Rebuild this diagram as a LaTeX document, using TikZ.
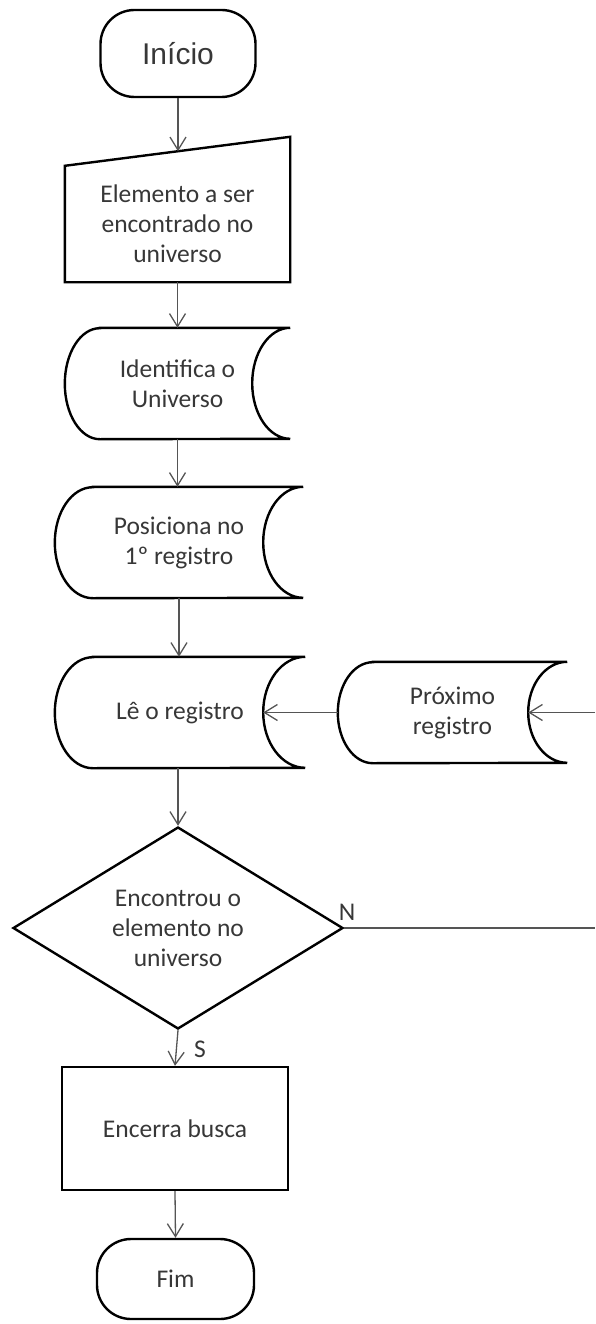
\documentclass[tikz,border=0pt]{standalone}
\usepackage{fontspec}
\setmainfont{Carlito}
\newfontfamily\arialfont{Liberation Sans}
\usetikzlibrary{shapes.geometric,arrows.meta,calc}
\definecolor{txt}{RGB}{55,55,55}
\definecolor{link}{RGB}{85,85,85}

% stored-data outline around a (borderless) node:
% #1 node name, #2 left bulge, #3 right notch depth, #4 half height
\newcommand\storeddata[4]{%
  \draw[outline] ($(#1.north west)+(#2pt,0)$) -- (#1.north east)
    arc[start angle=90, end angle=270, x radius=#3pt, y radius=#4pt]
    -- ($(#1.south west)+(#2pt,0)$)
    arc[start angle=270, end angle=90, x radius=#2pt, y radius=#4pt] -- cycle;
  \coordinate (#1-in) at ($(#1.east)-(#3pt,0)$);
}

\begin{document}
\begin{tikzpicture}[x=1pt,y=1pt,
  every node/.style={font=\fontsize{25.5}{30}\selectfont, text=txt, align=center, inner sep=0pt},
  outline/.style={draw=black, line width=2.4pt},
  terminal/.style={outline, rounded corners=34pt},
  procbox/.style={outline},
  ghost/.style={draw=none},
  decision/.style={outline, diamond, shape aspect=1.63},
  flow/.style={draw=link, line width=1.3pt, -{Straight Barb[length=13pt,width=16pt]}},
  plain/.style={draw=link, line width=1.3pt},
]
\useasboundingbox (0,0) rectangle (595,-1324);

% start
\node[terminal, minimum width=155pt, minimum height=87pt,
      font=\arialfont\fontsize{30}{34}\selectfont] (inicio) at (178,-53.5) {Início};

% manual input with slanted top
\node[ghost, minimum width=225pt, minimum height=116pt] (entrada) at (177.5,-224)
  {Elemento a ser\\encontrado no\\universo};
\coordinate (entradaTR) at ($(entrada.north east)+(0,29)$);
\draw[outline] (entrada.north west) -- (entradaTR) -- (entrada.south east)
  -- (entrada.south west) -- cycle;
\coordinate (entradaIn) at ($(entrada.north west)!0.5!(entradaTR)$);

% stored-data steps
\node[ghost, minimum width=225pt, minimum height=111pt] (identifica) at (177.5,-383.5)
  {Identifica o\\Universo};
\storeddata{identifica}{35}{38}{55.5}

\node[ghost, minimum width=248pt, minimum height=111pt] (posiciona) at (179,-542.5)
  {Posiciona no\\1º registro};
\storeddata{posiciona}{38}{40}{55.5}

\node[ghost, minimum width=250pt, minimum height=111pt] (le) at (180,-712.5)
  {Lê o registro};
\storeddata{le}{38}{42}{55.5}

\node[ghost, minimum width=229pt, minimum height=101pt] (proximo) at (452.5,-712.5)
  {Próximo\\registro};
\storeddata{proximo}{35}{39}{50.5}

% decision
\node[decision, minimum width=330pt, minimum height=202pt] (decisao) at (178,-928)
  {Encontrou o\\elemento no\\universo};

% end of search
\node[procbox, minimum width=226pt, minimum height=123pt] (encerra) at (175,-1128.5)
  {Encerra busca};

% stop
\node[terminal, minimum width=157pt, minimum height=80pt] (fim) at (175.5,-1279) {Fim};

% branch labels
\node (nlabel) at (347,-912) {N};
\node (slabel) at (200,-1049) {S};

% loop-back ends at the right margin
\coordinate (loopA) at (595,-928);
\coordinate (loopB) at (595,-712.5);

% connectors
\draw[flow] (inicio.south) -- (inicio.south |- entradaIn);
\draw[flow] (entrada.south) -- (identifica.north);
\draw[flow] (identifica.south) -- (identifica.south |- posiciona.north);
\draw[flow] (posiciona.south) -- (posiciona.south |- le.north);
\draw[flow] (le.south -| decisao.north) -- (decisao.north);
\draw[flow] (proximo.west) -- (le-in);
\draw[plain] (decisao.east) -- (loopA);
\draw[flow] (loopB) -- (proximo-in);
\draw[flow] (decisao.south) -- (encerra.north);
\draw[flow] (encerra.south) -- (fim.north);
\end{tikzpicture}
\end{document}
